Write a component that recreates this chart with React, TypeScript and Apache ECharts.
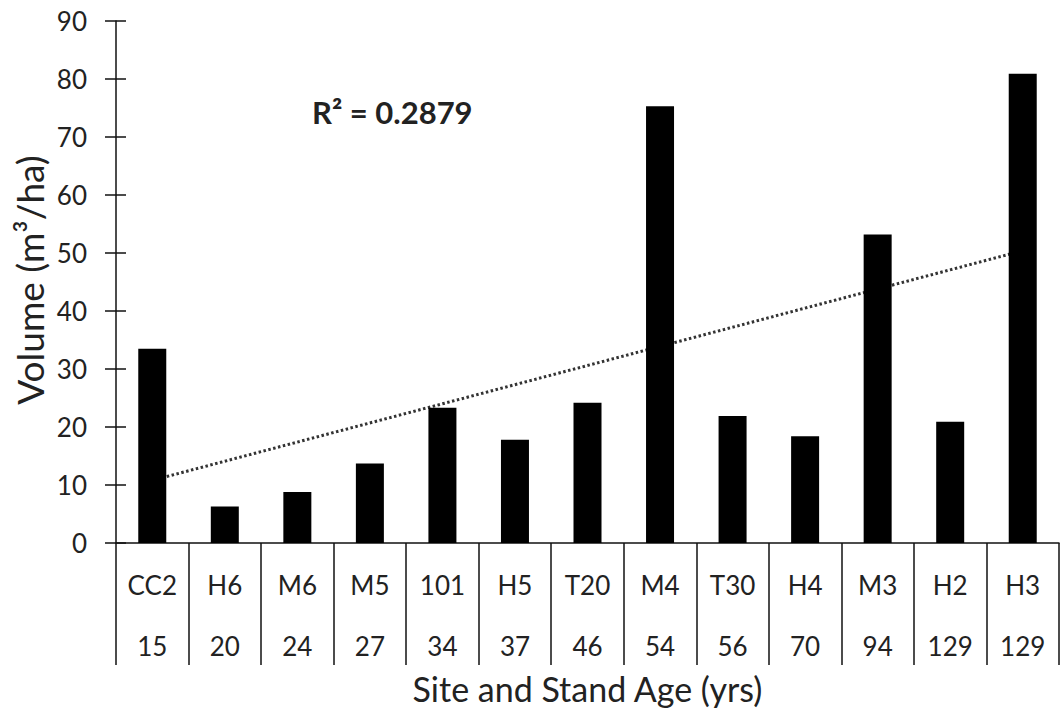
import React, { useEffect, useRef } from "react";
import * as echarts from "echarts";

const sites = ["CC2", "H6", "M6", "M5", "101", "H5", "T20", "M4", "T30", "H4", "M3", "H2", "H3"];
const ages = ["15", "20", "24", "27", "34", "37", "46", "54", "56", "70", "94", "129", "129"];
const volumes = [33.5, 6.3, 8.8, 13.7, 23.3, 17.8, 24.2, 75.3, 21.9, 18.4, 53.2, 20.9, 80.9];
// Linear trendline end values (first and last category)
const trendStart = 10.8;
const trendEnd = 50.4;
const rSquaredText = "R² = 0.2879";
const yTicks = { min: 0, max: 90, interval: 10 };

const FONT = "Lato, 'Open Sans', sans-serif";
const TEXT = "#222";

export default function App() {
  const ref = useRef<HTMLDivElement>(null);
  useEffect(() => {
    if (!ref.current) return;
    const chart = echarts.init(ref.current, null, { renderer: "svg" });
    const trend = sites.map((_, i) => (i === 0 ? trendStart : i === sites.length - 1 ? trendEnd : null));
    chart.setOption({
      animation: false,
      backgroundColor: "#fff",
      grid: { left: 116, right: 2, top: 21, bottom: 170, containLabel: false, outerBoundsMode: "none" },
      xAxis: {
        type: "category",
        data: sites,
        boundaryGap: true,
        name: "Site and Stand Age (yrs)",
        nameLocation: "middle",
        nameMoveOverlap: false,
        nameGap: 145,
        nameTextStyle: { fontFamily: FONT, fontSize: 34, color: TEXT, verticalAlign: "middle" },
        axisLine: { show: true, lineStyle: { color: "#111", width: 1.5 } },
        axisTick: { show: true, interval: 0, length: 122, lineStyle: { color: "#111", width: 1.5 } },
        axisLabel: {
          interval: 0,
          margin: 11,
          fontFamily: FONT,
          fontSize: 26,
          color: TEXT,
          lineHeight: 61,
          formatter: (v: string, i: number) => `${v}\n${ages[i]}`,
        },
        splitLine: { show: false },
      },
      yAxis: [
        {
          type: "value",
          min: yTicks.min,
          max: yTicks.max,
          interval: yTicks.interval,
          position: "left",
          axisLine: { show: true, lineStyle: { color: "#111", width: 1.5 } },
          axisTick: { show: true, inside: false, length: 11, lineStyle: { color: "#111", width: 1.5 } },
          axisLabel: { margin: 29, fontFamily: FONT, fontSize: 26, color: TEXT },
          splitLine: { show: false },
        },
        {
          type: "value",
          min: yTicks.min,
          max: yTicks.max,
          interval: yTicks.interval,
          position: "left",
          offset: 0,
          axisLine: { show: false },
          axisTick: { show: true, inside: true, length: 10, lineStyle: { color: "#111", width: 1.5 } },
          axisLabel: { show: false },
          splitLine: { show: false },
        },
      ],
      series: [
        {
          type: "line",
          data: trend,
          connectNulls: true,
          showSymbol: false,
          symbol: "none",
          z: 1,
          lineStyle: { color: "#333", width: 3, type: [2.5, 2.5] },
          silent: true,
        },
        {
          type: "bar",
          data: volumes,
          barWidth: 28,
          z: 2,
          itemStyle: { color: "#000" },
        },
      ],
      graphic: [
        {
          type: "text",
          left: 312,
          top: 96,
          style: {
            text: rSquaredText,
            fontFamily: FONT,
            fontSize: 31,
            fontWeight: "bold",
            fill: TEXT,
          },
        },
        {
          type: "text",
          x: 29,
          y: 280,
          rotation: Math.PI / 2,
          style: {
            text: "Volume (m³/ha)",
            fontFamily: FONT,
            fontSize: 37,
            fill: TEXT,
            align: "center",
            verticalAlign: "middle",
          },
        },
      ],
    });
    return () => chart.dispose();
  }, []);
  return (
    <div
      ref={ref}
      style={{ position: "fixed", left: 0, top: 0, width: 1061, height: 713, background: "#fff" }}
    />
  );
}
